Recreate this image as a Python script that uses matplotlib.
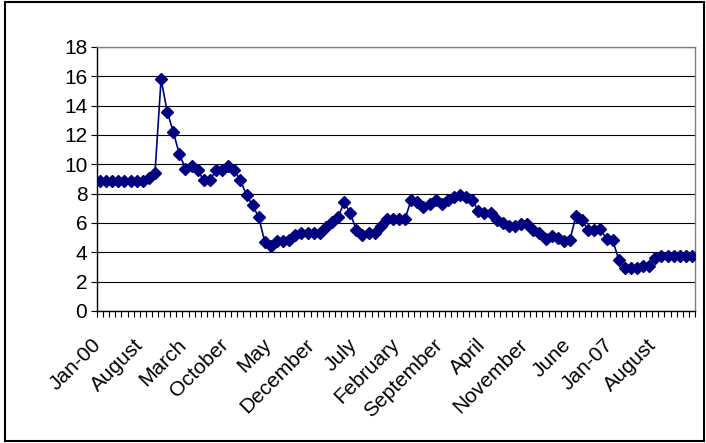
import matplotlib
matplotlib.use("Agg")
import matplotlib.pyplot as plt
from matplotlib.patches import Rectangle
from matplotlib.transforms import ScaledTranslation
import numpy as np

plt.rcParams['font.family'] = ['Liberation Sans', 'DejaVu Sans']

# Monthly values, Jan-2000 .. Feb-2008
values = [
    8.85, 8.85, 8.85, 8.85, 8.85, 8.85, 8.85, 8.85, 9.1, 9.4,
    15.8, 13.6, 12.2, 10.7, 9.7, 9.9, 9.6, 8.9, 8.9, 9.6,
    9.6, 9.9, 9.6, 8.9, 7.9, 7.2, 6.4, 4.7, 4.45, 4.8,
    4.8, 4.85, 5.2, 5.3, 5.3, 5.3, 5.3, 5.7, 6.05, 6.4,
    7.4, 6.7, 5.5, 5.2, 5.3, 5.3, 5.8, 6.3, 6.3, 6.3,
    6.3, 7.6, 7.4, 7.1, 7.3, 7.6, 7.3, 7.6, 7.8, 7.9,
    7.8, 7.6, 6.8, 6.7, 6.7, 6.2, 6.0, 5.8, 5.8, 5.9,
    5.9, 5.5, 5.3, 4.9, 5.1, 5.0, 4.8, 4.85, 6.5, 6.2,
    5.5, 5.5, 5.6, 4.9, 4.85, 3.5, 2.9, 2.9, 2.95, 3.05,
    3.1, 3.6, 3.75, 3.75, 3.75, 3.75, 3.75, 3.75,
]
label_positions = [0, 7, 14, 21, 28, 35, 42, 49, 56, 63, 70, 77, 84, 91]
tick_labels = ["Jan-00", "August", "March", "October", "May", "December", "July",
               "February", "September", "April", "November", "June", "Jan-07", "August"]
y_ticks = list(range(0, 19, 2))

W, H = 706, 443
fig = plt.figure(figsize=(W / 100, H / 100), dpi=100)
ax = fig.add_axes([97 / W, 1 - 311 / H, (695 - 97) / W, (311 - 47) / H])

x = np.arange(len(values))
ax.plot(x, values, color='#000080', lw=1.2, marker='D', markersize=6,
        markerfacecolor='#000080', markeredgecolor='#000080', zorder=3)

ax.set_xlim(-0.5, len(values) - 0.5)
ax.set_ylim(0, 18)
ax.set_yticks(y_ticks)
ax.set_yticklabels([str(v) for v in y_ticks])
ax.yaxis.grid(True, color='black', lw=0.8)
ax.set_axisbelow(True)

ax.set_xticks([])
ax.set_xticks(np.arange(len(values) + 1) - 0.5, minor=True)
ax.tick_params(axis='x', which='minor', length=4, width=0.8, direction='out', color='black')
ax.tick_params(axis='y', length=4, width=0.8, direction='out', labelsize=15, pad=3)

off = ScaledTranslation(-9 / 100, -24 / 100, fig.dpi_scale_trans)
for pos, lab in zip(label_positions, tick_labels):
    ax.text(pos, 0, lab, transform=ax.get_xaxis_transform() + off,
            rotation=45, rotation_mode='anchor', ha='right', va='top',
            fontsize=15, clip_on=False)

for s in ['left', 'bottom']:
    ax.spines[s].set_color('black')
    ax.spines[s].set_linewidth(1.0)
for s in ['top', 'right']:
    ax.spines[s].set_color('#808080')
    ax.spines[s].set_linewidth(1.0)

fig.patches.append(Rectangle((5 / W, 2 / H), (704 - 5) / W, (441 - 2) / H,
                             transform=fig.transFigure, fill=False,
                             edgecolor='black', lw=1.5))

fig.savefig('out.png', dpi=100)
